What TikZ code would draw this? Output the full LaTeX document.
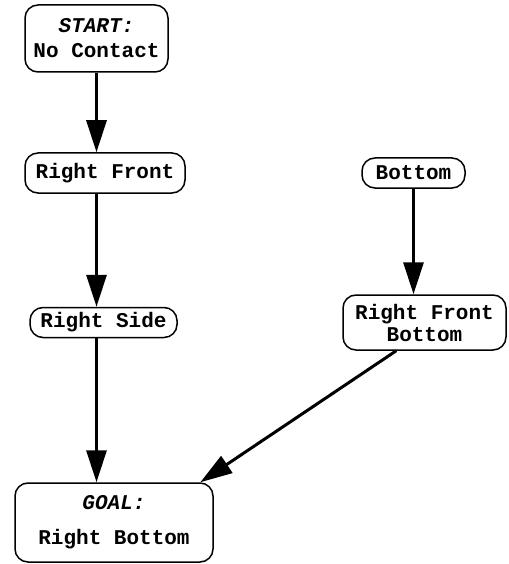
\documentclass[tikz,border=0pt]{standalone}
\usepackage{fontspec}
\setmonofont{Liberation Mono}
\usetikzlibrary{arrows.meta}
\begin{document}
\begin{tikzpicture}[x=1pt, y=-1pt,
	state/.style={draw=black, line width=1.5pt, rounded corners=13pt, align=center, inner sep=0pt, font=\ttfamily\bfseries\fontsize{21}{22}\selectfont},
	trans/.style={-{Triangle[length=32pt, width=20pt]}, line width=3pt}]
	\useasboundingbox (0,0) rectangle (508,564);
	
	\node[state, minimum width=143pt, minimum height=67pt] (start) at (96.5,38.5) {\textit{START:}\\[3pt]No Contact};
	\node[state, minimum width=160pt, minimum height=40pt] (rf) at (105,173) {Right Front};
	\node[state, minimum width=147pt, minimum height=30pt] (rs) at (103.5,322.5) {Right Side};
	\node[state, minimum width=198pt, minimum height=79pt] (goal) at (114,522.5) {\textit{GOAL:}\\[13pt]Right Bottom};
	\node[state, minimum width=103pt, minimum height=30pt] (bottom) at (413.5,173) {Bottom};
	\node[state, minimum width=163pt, minimum height=55pt] (rfb) at (424.5,322.5) {Right Front\\Bottom};
	
	\draw[trans] (start) -- (start |- rf.north);
	\draw[trans] (rf.south -| start) -- (start |- rs.north);
	\draw[trans] (rs.south -| start) -- (start |- goal.north);
	\draw[trans] (bottom) -- (bottom |- rfb.north);
	\draw[trans] (rfb.225) -- (goal.25);
\end{tikzpicture}
\end{document}
